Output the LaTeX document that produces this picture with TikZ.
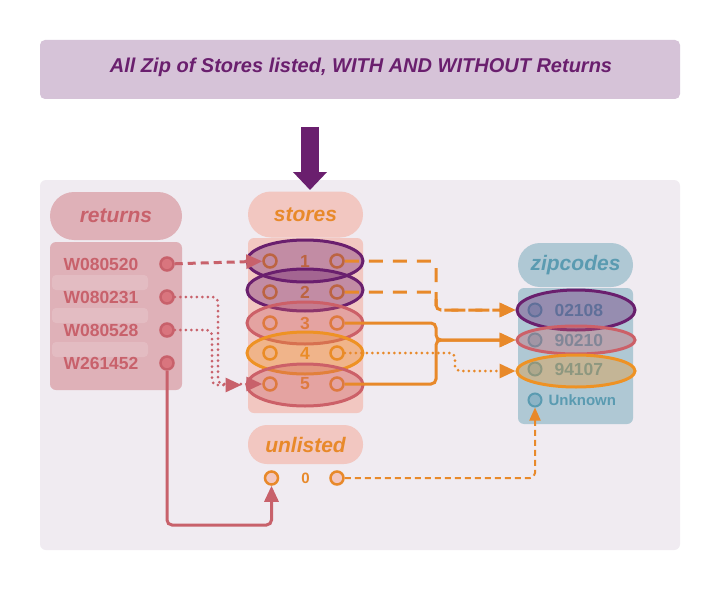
\documentclass[tikz,border=0pt]{standalone}
\usepackage{fontspec}
\setmainfont{Liberation Sans}
\usetikzlibrary{arrows.meta,shapes.geometric}

\definecolor{plum}{HTML}{6A1F6E}
\definecolor{titlebg}{HTML}{D6C3D8}
\definecolor{panelbg}{HTML}{F0EBF1}
\definecolor{rose}{HTML}{C8616B}
\definecolor{rosebg}{HTML}{DFB1B8}
\definecolor{roseport}{HTML}{D9757E}
\definecolor{peach}{HTML}{F2C7C1}
\definecolor{amber}{HTML}{E8892A}
\definecolor{amberline}{HTML}{EE9224}
\definecolor{redline}{HTML}{CC6068}
\definecolor{teal}{HTML}{5A9BB1}
\definecolor{tealbg}{HTML}{AFC8D4}
\definecolor{tealport}{HTML}{8DB4C6}

\tikzset{
  head/.style={rectangle, rounded corners=#1, inner sep=0pt,
    font=\fontsize{21}{24}\selectfont\bfseries\itshape},
  port/.style={circle, inner sep=0pt, minimum size=13pt, line width=2.5pt},
  ring/.style={ellipse, draw=#1, fill=#1, fill opacity=0.35, line width=3pt, inner sep=0pt},
  rowtext/.style={font=\fontsize{17.5}{20}\selectfont\bfseries},
  link/.style={line width=3pt, rounded corners=5pt, -{Triangle[length=16pt,width=14pt]}},
  dots/.style={dash pattern=on 0pt off 5.5pt, line cap=round}
}

\begin{document}
\begin{tikzpicture}[x=1pt,y=-1pt]
\fill[white] (0,0) rectangle (720,591);
\fill[titlebg, rounded corners=5pt] (40,40) rectangle (680,99);
\node[text=plum, font=\fontsize{20}{24}\selectfont\bfseries\itshape] (title) at (361,67)
  {All Zip of Stores listed, WITH AND WITHOUT Returns};
\fill[panelbg, rounded corners=6pt] (40,180) rectangle (680,550);

\coordinate (arrtop) at (310,127);
\coordinate (arrtip) at (310,190);
\draw[plum, line width=18pt, -{Triangle[length=18pt,width=33pt]}] (arrtop) -- (arrtip);

\node[head=24pt, fill=rosebg, text=rose, minimum width=132pt, minimum height=48pt] (rethead) at (116,216) {returns};
\fill[rosebg, rounded corners=6pt] (50,242) rectangle (182,390);
\foreach \y in {275,308,342}
\fill[white, fill opacity=0.15, rounded corners=4pt] (52,\y) rectangle (148,\y+15);

\node[head=23pt, fill=peach, text=amber, minimum width=115pt, minimum height=46pt] (sthead) at (305.5,214.5) {stores};
\fill[peach, rounded corners=6pt] (248,238) rectangle (363,413);

\node[head=19pt, fill=peach, text=amber, minimum width=115pt, minimum height=39pt] (unhead) at (305.5,444.5) {unlisted};

\node[head=22pt, fill=tealbg, text=teal, minimum width=115pt, minimum height=44pt] (ziphead) at (575.5,265) {zipcodes};
\fill[tealbg, rounded corners=6pt] (518,288) rectangle (633,424);

\foreach \t/\y [count=\i] in {W080520/264,W080231/297,W080528/330,W261452/363} {
  \node[rowtext, text=rose, anchor=west] (rett\i) at (60,\y) {\t};
  \node[port, draw=rose, fill=roseport] (ret\i) at (167,\y) {};
}

\foreach \y [count=\i] in {261,292,323,353,384} {
  \node[port, draw=amber, fill=peach] (stl\i) at (270,\y) {};
  \node[rowtext, text=amber] (stn\i) at (305,\y) {\i};
  \node[port, draw=amber, fill=peach] (str\i) at (337,\y) {};
}
\foreach \i/\y/\c in {1/261/plum,2/290/plum,3/323/redline,4/353/amberline,5/385/redline}
\node[ring=\c, minimum width=116pt, minimum height=42pt] (se\i) at (305,\y) {};

\node[port, draw=amber, fill=peach] (unl) at (271.5,478) {};
\node[rowtext, text=amber, font=\fontsize{15}{18}\selectfont\bfseries] (unn) at (305.5,478) {0};
\node[port, draw=amber, fill=peach] (unr) at (337,478) {};

\foreach \t/\y [count=\i] in {02108/310,90210/340,94107/369} {
  \node[port, line width=2pt, draw=teal, fill=tealport] (zip\i) at (535,\y) {};
  \node[rowtext, text=teal, anchor=west] (zipt\i) at (551,\y) {\t};
}
\node[port, line width=2pt, draw=teal, fill=tealport] (zipu) at (535,400) {};
\node[rowtext, text=teal, anchor=west, font=\fontsize{15}{18}\selectfont\bfseries] (ziptu) at (545,400) {Unknown};
\node[ring=plum, minimum width=118pt, minimum height=40pt] (ze1) at (576,310) {};
\node[ring=redline, minimum width=118pt, minimum height=28pt] (ze2) at (576,340) {};
\node[ring=amberline, minimum width=118pt, minimum height=32pt] (ze3) at (576,371) {};

\coordinate (j2) at (218,0);
\coordinate (j3) at (212,0);
\coordinate (bot) at (0,525);
\coordinate (jo) at (436,0);
\coordinate (jd) at (455,0);

\draw[link, rose, dash pattern=on 8pt off 5pt] (ret1) -- (stl1);
\draw[link, rose, dots] (ret2) -- (ret2 -| j2) |- (stl5);
\draw[link, rose, dots, shorten >=4pt] (ret3) -- (ret3 -| j3) |- (se5.west);
\draw[link, rose] (ret4) |- (unl |- bot) -- (unl);

\draw[link, amber, dash pattern=on 14pt off 10pt] (str1) -- (str1 -| jo) |- (ze1.west);
\draw[link, amber, dash pattern=on 14pt off 10pt] (str2) -- (str2 -| jo) |- (ze1.west);
\draw[link, amber] (str3) -- (str3 -| jo) |- (ze2.west);
\draw[link, amber] (str5) -- (str5 -| jo) |- (ze2.west);
\draw[link, amber, dots] (str4) -- (str4 -| jd) |- (ze3.west);
\draw[link, amber, line width=2pt, dash pattern=on 6pt off 4pt, -{Triangle[length=13pt,width=11pt]}] (unr) -| (zipu);
\end{tikzpicture}
\end{document}
